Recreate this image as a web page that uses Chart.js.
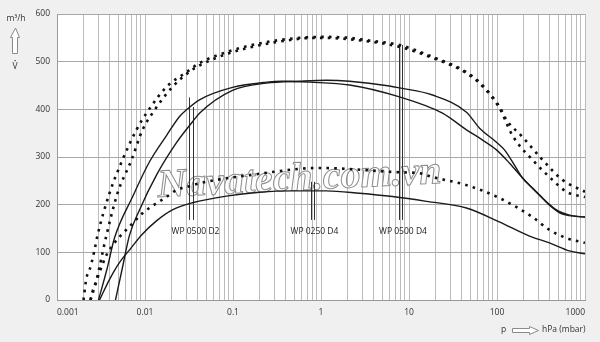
<!DOCTYPE html>
<html>
<head>
    <title>WP pumping speed</title>
    <script src="https://cdn.jsdelivr.net/npm/chart.js"></script>
    <style>
        html, body { margin: 0; padding: 0; background: #f0f0f0; }
        #wrap { width: 600px; height: 342px; position: relative; }
    </style>
</head>
<body>
    <div id="wrap"><canvas id="speedChart"></canvas></div>
    <script>
        // axis ticks
        const pressureDecades = [0.001, 0.01, 0.1, 1, 10, 100, 1000];
        const pressureLabels = ['0.001', '0.01', '0.1', '1', '10', '100', '1000'];
        const speedTicks = [0, 100, 200, 300, 400, 500, 600];

        // curves as [pressure hPa, speed m3/h]
        const solidA = [[0.00296, 0], [0.0037, 65], [0.0045, 130], [0.0072, 216], [0.01125, 290], [0.01755, 345],
            [0.0247, 385], [0.0296, 399], [0.0416, 420], [0.0987, 446], [0.24, 457], [0.365, 459], [0.74, 457],
            [2.11, 451], [7.8, 426], [24, 392], [45, 357], [68, 336], [98.6, 315], [139, 287], [195, 256],
            [304, 220], [474, 189], [667, 178], [1000, 174]];
        const solidB = [[0.00462, 0], [0.0055, 65], [0.00667, 136], [0.00866, 189], [0.0135, 262], [0.0228, 330],
            [0.0347, 374], [0.0416, 392], [0.0987, 440], [0.24, 455], [0.57, 459], [1.155, 461], [2.11, 459],
            [6.0, 449], [7.8, 445], [18.5, 430], [45, 394], [63, 361], [98.6, 331], [121.6, 315], [158, 283],
            [195, 256], [267, 231], [395, 199], [555, 180], [1000, 174]];
        const solidC = [[0.00304, 0], [0.004, 45], [0.0051, 78], [0.007, 110], [0.0092, 137], [0.0135, 166],
            [0.0205, 189], [0.0347, 204], [0.084, 218], [0.2, 226], [0.475, 229], [1.155, 229], [2.74, 224],
            [6.49, 217], [15.8, 207], [45, 193], [106, 164], [234, 134], [395, 120], [667, 103], [1000, 97]];
        const dottedD = [[0.002, 0], [0.00216, 46], [0.00234, 63], [0.00247, 78], [0.00267, 105], [0.00289, 136],
            [0.00395, 224], [0.00555, 294], [0.008, 357], [0.0104, 392], [0.01755, 447], [0.0296, 478],
            [0.0416, 497], [0.0987, 524], [0.24, 541], [0.57, 550], [1.04, 552], [2.11, 550], [3.29, 545],
            [7.8, 535], [18.5, 510], [45, 478], [68, 451], [107, 405], [128, 378], [195, 342], [329, 294],
            [555, 252], [1000, 227]];
        const dottedE = [[0.0024, 0], [0.00253, 17], [0.00281, 42], [0.00304, 69], [0.00329, 99], [0.00365, 136],
            [0.00487, 224], [0.00703, 294], [0.00937, 357], [0.01216, 392], [0.0205, 447], [0.0338, 482],
            [0.0416, 492], [0.0987, 520], [0.57, 548], [1.04, 550], [3.29, 543], [7.8, 531], [18.5, 508],
            [45, 476], [68, 449], [107, 402], [150, 345], [253, 294], [427, 252], [616, 227], [1000, 216]];
        const dottedF = [[0.0024, 0], [0.003, 55], [0.00376, 99], [0.0043, 115], [0.0051, 132], [0.0062, 148],
            [0.00937, 182], [0.0135, 203], [0.01755, 216], [0.0228, 231], [0.0296, 237], [0.0416, 245],
            [0.155, 262], [0.96, 277], [7.8, 268], [13.1, 266], [18.5, 258], [45, 241], [106.6, 214],
            [253, 174], [395, 147], [616, 130], [1000, 120]];

        const curveNames = ['WP 0500 D2', 'WP 0250 D4', 'WP 0500 D4'];

        // label placement (pressure of label centre, leader line pressures and tops)
        const marks = [
            { at: 0.0375, lines: [[0.0315, 425], [0.0349, 405]] },
            { at: 0.843, lines: [[0.778, 248], [0.83, 248]] },
            { at: 8.55, lines: [[7.76, 535], [8.26, 535]] }
        ];

        const FONT = '"Open Sans", "Noto Sans", sans-serif';

        function pts(arr) {
            return arr.map(d => ({ x: d[0], y: d[1] }));
        }
        function solid(arr) {
            return { data: pts(arr), borderColor: '#1a1a1a', borderWidth: 1.4, pointRadius: 0,
                cubicInterpolationMode: 'monotone', fill: false };
        }
        function dotted(arr) {
            return { data: pts(arr), borderColor: '#111', borderWidth: 2.6, borderDash: [2.6, 5.2],
                borderCapStyle: 'butt', pointRadius: 0, cubicInterpolationMode: 'monotone', fill: false };
        }

        function isDecade(v) {
            const l = Math.log10(v);
            return Math.abs(l - Math.round(l)) < 1e-9;
        }

        const overlay = {
            id: 'overlay',
            beforeDraw(chart) {
                const { ctx, chartArea: a } = chart;
                ctx.save();
                ctx.fillStyle = '#f0f0f0';
                ctx.fillRect(0, 0, chart.width, chart.height);
                ctx.fillStyle = '#ffffff';
                ctx.fillRect(a.left, a.top, a.right - a.left, a.bottom - a.top);
                ctx.restore();
            },
            beforeDatasetsDraw(chart) {
                const { ctx } = chart;
                const xs = chart.scales.x, ys = chart.scales.y;
                ctx.save();
                // watermark
                ctx.translate(300, 190);
                ctx.rotate(-0.05);
                ctx.font = 'italic bold 40px "Liberation Serif", serif';
                ctx.textAlign = 'center';
                ctx.textBaseline = 'alphabetic';
                ctx.fillStyle = 'rgba(255,255,255,0.75)';
                ctx.fillText('Navatech.com.vn', 0, 0);
                ctx.strokeStyle = '#8c8c8c';
                ctx.lineWidth = 1;
                ctx.strokeText('Navatech.com.vn', 0, 0);
                ctx.restore();

                // leader lines and curve names
                ctx.save();
                ctx.strokeStyle = '#333';
                ctx.lineWidth = 1;
                const yBottom = ys.getPixelForValue(168);
                const yText = ys.getPixelForValue(143);
                marks.forEach((m, i) => {
                    m.lines.forEach(l => {
                        const x = Math.round(xs.getPixelForValue(l[0])) + 0.5;
                        ctx.beginPath();
                        ctx.moveTo(x, ys.getPixelForValue(l[1]));
                        ctx.lineTo(x, yBottom);
                        ctx.stroke();
                    });
                    ctx.fillStyle = '#222';
                    ctx.font = '8.5px ' + FONT;
                    ctx.textAlign = 'center';
                    ctx.textBaseline = 'middle';
                    ctx.fillText(curveNames[i], xs.getPixelForValue(m.at), yText);
                });
                ctx.restore();
            },
            afterDraw(chart) {
                const { ctx } = chart;
                ctx.save();
                ctx.fillStyle = '#333';
                ctx.font = '8.5px ' + FONT;
                ctx.textBaseline = 'middle';
                ctx.textAlign = 'center';
                ctx.fillText('m³/h', 16, 19);
                ctx.fillText('V', 15, 67);
                ctx.fillRect(14.5, 60, 1.2, 1.2); // dot over V
                ctx.textAlign = 'left';
                ctx.fillText('p', 501, 330);
                ctx.fillText('hPa (mbar)', 542, 330);

                ctx.strokeStyle = '#8a8a8a';
                ctx.fillStyle = '#ffffff';
                ctx.lineWidth = 1;
                // up arrow
                ctx.beginPath();
                ctx.moveTo(15.5, 28);
                ctx.lineTo(19.5, 37.5);
                ctx.lineTo(17.5, 37.5);
                ctx.lineTo(17.5, 53.5);
                ctx.lineTo(12.5, 53.5);
                ctx.lineTo(12.5, 37.5);
                ctx.lineTo(10.5, 37.5);
                ctx.closePath();
                ctx.fill();
                ctx.stroke();
                // right arrow
                ctx.beginPath();
                ctx.moveTo(512.5, 328.5);
                ctx.lineTo(529.5, 328.5);
                ctx.lineTo(529.5, 326.5);
                ctx.lineTo(538.5, 330.5);
                ctx.lineTo(529.5, 334.5);
                ctx.lineTo(529.5, 332.5);
                ctx.lineTo(512.5, 332.5);
                ctx.closePath();
                ctx.fill();
                ctx.stroke();
                ctx.restore();
            }
        };

        const ctx = document.getElementById('speedChart').getContext('2d');
        const speedChart = new Chart(ctx, {
            type: 'line',
            data: {
                datasets: [
                    dotted(dottedD), dotted(dottedE), dotted(dottedF),
                    solid(solidA), solid(solidB), solid(solidC)
                ]
            },
            options: {
                responsive: true,
                maintainAspectRatio: false,
                animation: false,
                layout: { padding: { top: 14, right: 15, left: 0, bottom: 0 } },
                plugins: { legend: { display: false }, tooltip: { enabled: false } },
                scales: {
                    x: {
                        type: 'logarithmic',
                        min: pressureDecades[0],
                        max: pressureDecades[pressureDecades.length - 1],
                        afterBuildTicks: scale => {
                            const t = [];
                            for (let e = -3; e < 3; e++) {
                                for (let m = 1; m < 10; m++) {
                                    t.push({ value: parseFloat((m * Math.pow(10, e)).toPrecision(3)) });
                                }
                            }
                            t.push({ value: 1000 });
                            scale.ticks = t;
                        },
                        afterFit: scale => { scale.height = 42; },
                        ticks: {
                            autoSkip: false,
                            maxRotation: 0,
                            minRotation: 0,
                            align: 'inner',
                            padding: 7,
                            color: '#333',
                            font: { family: FONT, size: 8.5 },
                            callback: v => {
                                if (!isDecade(v)) return '';
                                const i = pressureDecades.findIndex(d => Math.abs(d - v) / d < 1e-6);
                                return i >= 0 ? pressureLabels[i] : '';
                            }
                        },
                        grid: { color: '#bcbcbc', lineWidth: 1, drawTicks: false },
                        border: { color: '#9a9a9a' }
                    },
                    y: {
                        min: speedTicks[0],
                        max: speedTicks[speedTicks.length - 1],
                        afterBuildTicks: scale => { scale.ticks = speedTicks.map(v => ({ value: v })); },
                        afterFit: scale => { scale.width = 57; },
                        ticks: {
                            padding: 7,
                            color: '#333',
                            font: { family: FONT, size: 8.5 }
                        },
                        grid: { color: '#a8a8a8', lineWidth: 1, drawTicks: false },
                        border: { color: '#9a9a9a' }
                    }
                }
            },
            plugins: [overlay]
        });
    </script>
</body>
</html>
